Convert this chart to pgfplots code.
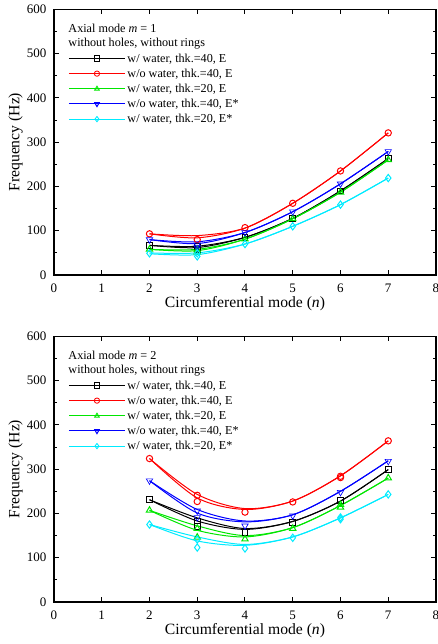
\documentclass[border=0pt]{standalone}
\usepackage{fontspec}
\setmainfont{Liberation Serif}
\usepackage{pgfplots}
\pgfplotsset{compat=1.18}

\definecolor{cred}{RGB}{255,0,0}
\definecolor{cgreen}{RGB}{0,230,0}
\definecolor{cblue}{RGB}{0,0,255}
\definecolor{ccyan}{RGB}{0,235,255}

\pgfplotsset{
  panel/.style={
    width=229.2pt, height=159.4pt, scale only axis,
    xmin=0, xmax=8, ymin=0, ymax=600,
    xtick={0,...,8}, ytick={0,100,...,600}, minor y tick num=1,
    tick align=inside, major tick length=3pt, minor tick length=1.8pt,
    axis line style={line width=0.7pt}, tick style={line width=0.6pt, black},
    /pgf/number format/assume math mode=true,
    ticklabel style={font=\fontsize{7.8}{9}\selectfont},
    xticklabel style={yshift=-2pt},
    yticklabel style={xshift=-1pt},
    xlabel={Circumferential mode (\textit{n})},
    ylabel={Frequency (Hz)},
    label style={font=\fontsize{9.4}{11}\selectfont},
    xlabel style={at={(axis description cs:0.5,-0.109)}, anchor=center},
    ylabel style={at={(axis description cs:-0.1004,0.5)}, anchor=center},
    legend style={draw=none, fill=none, at={(0.037,0.844)}, anchor=north west,
      inner sep=0pt, font=\fontsize{7.3}{9}\selectfont,
      nodes={inner sep=0.6pt, text height=6pt, text depth=1.6pt},
      row sep=0.3pt, column sep=0.6pt},
    legend cell align=left,
    legend image code/.code={
      \draw[mark repeat=2, mark phase=2, mark size=1.6pt]
        plot coordinates {(0pt,0pt) (16.8pt,0pt) (33.6pt,0pt)};},
  },
  fit/.style={smooth, line width=0.6pt, no markers, forget plot},
  pts/.style={only marks, forget plot, mark options={solid, line width=0.6pt, fill=white}},
  sq/.style={mark=square, mark size=1.7pt},
  ci/.style={mark=o, mark size=1.9pt},
  tu/.style={mark=triangle, mark size=2.2pt},
  td/.style={mark=triangle, mark size=2.2pt, mark options={rotate=180}},
  di/.style={mark=diamond, mark size=2.2pt},
  lg/.style={line width=0.6pt, mark options={solid, fill=white, line width=0.5pt}},
}

\begin{document}
\begin{tikzpicture}
% ---------- m = 1 ----------
\begin{axis}[panel, at={(0,0)}, anchor=south west]
\addplot[fit, black] coordinates {(2,67)(3,65)(4,85)(5,128)(6,190)(7,263)};
\addplot[fit, black] coordinates {(2,67)(3,62)(4,85)(5,128)(6,190)(7,263)};
\addplot[fit, cred] coordinates {(2,93)(3,89)(4,106)(5,162)(6,235)(7,321)};
\addplot[fit, cred] coordinates {(2,93)(3,84)(4,106)(5,162)(6,235)(7,321)};
\addplot[fit, cgreen] coordinates {(2,58)(3,58)(4,81)(5,127)(6,187)(7,260)};
\addplot[fit, cgreen] coordinates {(2,58)(3,55)(4,81)(5,127)(6,187)(7,260)};
\addplot[fit, cblue] coordinates {(2,80)(3,75)(4,96)(5,143)(6,206)(7,279)};
\addplot[fit, cblue] coordinates {(2,80)(3,71)(4,96)(5,143)(6,206)(7,279)};
\addplot[fit, ccyan] coordinates {(2,50)(3,50)(4,70)(5,110)(6,159)(7,219)};
\addplot[fit, ccyan] coordinates {(2,48)(3,46)(4,70)(5,110)(6,159)(7,219)};

\addplot[pts, sq, black] coordinates {(2,67)(3,64)(3,58)(4,85)(5,128)(6,190)(7,263)};
\addplot[pts, ci, cred] coordinates {(2,93)(3,80)(4,107)(5,162)(6,235)(7,321)};
\addplot[pts, tu, cgreen] coordinates {(2,58)(3,57)(3,52)(4,81)(5,127)(6,187)(7,260)};
\addplot[pts, td, cblue] coordinates {(2,80)(3,68)(3,62)(4,96)(5,143)(6,206)(7,279)};
\addplot[pts, di, ccyan] coordinates {(2,49)(3,49)(3,42)(4,70)(5,110)(6,159)(7,219)};

\addlegendimage{lg, black, mark=square}
\addlegendentry{w/ water, thk.=40, E}
\addlegendimage{lg, cred, mark=o}
\addlegendentry{w/o water, thk.=40, E}
\addlegendimage{lg, cgreen, mark=triangle}
\addlegendentry{w/ water, thk.=20, E}
\addlegendimage{lg, cblue, mark=triangle, mark options={rotate=180}}
\addlegendentry{w/o water, thk.=40, E*}
\addlegendimage{lg, ccyan, mark=diamond}
\addlegendentry{w/ water, thk.=20, E*}

\node[anchor=west, inner sep=0pt, font=\fontsize{7.3}{9}\selectfont] at (rel axis cs:0.037,0.928) {Axial mode \textit{m} = 1};
\node[anchor=west, inner sep=0pt, font=\fontsize{7.3}{9}\selectfont] at (rel axis cs:0.037,0.872) {without holes, without rings};
\end{axis}

% ---------- m = 2 ----------
\begin{axis}[panel, at={(0,-196.2pt)}, anchor=south west]
\addplot[fit, black] coordinates {(2,231)(3,190)(4,166)(5,182)(6,228)(7,299)};
\addplot[fit, black] coordinates {(2,231)(3,183)(4,164)(5,182)(6,228)(7,299)};
\addplot[fit, cred] coordinates {(2,324)(3,243)(4,211)(5,228)(6,285)(7,364)};
\addplot[fit, cred] coordinates {(2,324)(3,235)(4,209)(5,228)(6,285)(7,364)};
\addplot[fit, cgreen] coordinates {(2,207)(3,172)(4,150)(5,168)(6,218)(7,280)};
\addplot[fit, cgreen] coordinates {(2,207)(3,162)(4,147)(5,168)(6,218)(7,280)};
\addplot[fit, cblue] coordinates {(2,274)(3,209)(4,183)(5,197)(6,250)(7,319)};
\addplot[fit, cblue] coordinates {(2,274)(3,201)(4,181)(5,197)(6,250)(7,319)};
\addplot[fit, ccyan] coordinates {(2,175)(3,147)(4,130)(5,147)(6,190)(7,243)};
\addplot[fit, ccyan] coordinates {(2,175)(3,138)(4,128)(5,147)(6,190)(7,243)};

\addplot[pts, sq, black] coordinates {(2,231)(3,183)(3,170)(4,157)(5,179)(6,230)(7,299)};
\addplot[pts, ci, cred] coordinates {(2,324)(3,241)(3,227)(4,203)(5,226)(6,284)(6,281)(7,364)};
\addplot[pts, tu, cgreen] coordinates {(2,207)(3,166)(3,146)(4,142)(5,166)(6,220)(6,214)(7,280)};
\addplot[pts, td, cblue] coordinates {(2,274)(3,206)(3,191)(4,172)(5,195)(6,248)(7,318)};
\addplot[pts, di, ccyan] coordinates {(2,175)(3,141)(3,123)(4,121)(5,145)(6,191)(6,187)(7,243)};

\addlegendimage{lg, black, mark=square}
\addlegendentry{w/ water, thk.=40, E}
\addlegendimage{lg, cred, mark=o}
\addlegendentry{w/o water, thk.=40, E}
\addlegendimage{lg, cgreen, mark=triangle}
\addlegendentry{w/ water, thk.=20, E}
\addlegendimage{lg, cblue, mark=triangle, mark options={rotate=180}}
\addlegendentry{w/o water, thk.=40, E*}
\addlegendimage{lg, ccyan, mark=diamond}
\addlegendentry{w/ water, thk.=20, E*}

\node[anchor=west, inner sep=0pt, font=\fontsize{7.3}{9}\selectfont] at (rel axis cs:0.037,0.928) {Axial mode \textit{m} = 2};
\node[anchor=west, inner sep=0pt, font=\fontsize{7.3}{9}\selectfont] at (rel axis cs:0.037,0.872) {without holes, without rings};
\end{axis}

\pgfresetboundingbox
\useasboundingbox (-32.4pt,-221.4pt) rectangle (230.4pt,165pt);
\end{tikzpicture}
\end{document}
